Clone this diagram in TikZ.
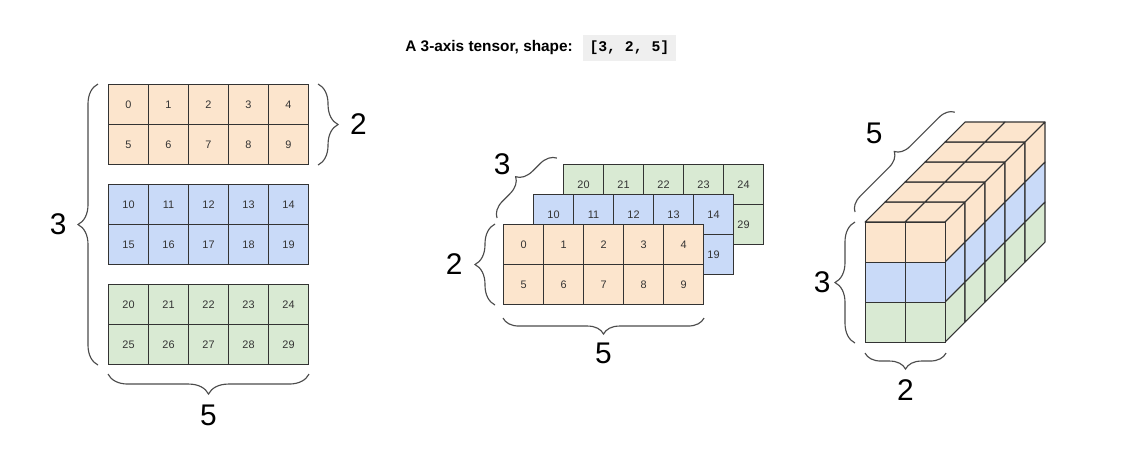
\documentclass[tikz,border=0pt]{standalone}
\usepackage{fontspec}
\setmainfont{Liberation Sans}
\setmonofont{Liberation Mono}
\usepackage{xcolor}
\usetikzlibrary{positioning,calc,decorations.pathreplacing}

\definecolor{tOrange}{HTML}{FCE5CD}
\definecolor{tBlue}{HTML}{C9DAF8}
\definecolor{tGreen}{HTML}{D9EAD3}
\definecolor{codeGray}{HTML}{EFEFEF}
\definecolor{gridLine}{HTML}{333333}

\begin{document}
\begin{tikzpicture}[
    x=0.02cm, y=-0.02cm,
    cell/.style={rectangle, draw=gridLine, line width=0.6pt, minimum width=0.8cm, minimum height=0.8cm, inner sep=0pt, anchor=north west, font=\fontsize{6.2}{7}\selectfont, text=black!80},
    face/.style={draw=gridLine, line width=0.6pt, line join=round},
    brace/.style={decorate, decoration={brace, amplitude=#1}, draw=black!70, line width=0.65pt},
    brace/.default=0.4cm,
    dimlabel/.style={font=\fontsize{17}{20}\selectfont, inner sep=0pt}
]
    \useasboundingbox (0,0) rectangle (1143,460);

    % title
    \node[anchor=west, inner sep=0pt, font=\bfseries\fontsize{8.75}{10}\selectfont] (title) at (405,48) {A 3-axis tensor, shape:};
    \node[right=0.18cm of title, fill=codeGray, inner xsep=0.14cm, minimum height=0.48cm, font=\ttfamily\bfseries\fontsize{8.4}{10}\selectfont] (shape) {[3, 2, 5]};

    % left: three 2x5 matrices
    \foreach \k/\col in {0/tOrange, 1/tBlue, 2/tGreen}
        \foreach \r in {0,1}
            \foreach \c in {0,...,4} {
                \pgfmathtruncatemacro{\n}{10*\k+5*\r+\c}
                \node[cell, fill=\col] (a\n) at (108+40*\c, 84+100*\k+40*\r) {\n};
            }

    \draw[brace] ($(a25.south west)+(-10,0)$) -- ($(a0.north west)+(-10,0)$) node[dimlabel, midway, left=0.62cm] (aThree) {3};
    \draw[brace] ($(a4.north east)+(9,0)$) -- ($(a9.south east)+(9,0)$) node[dimlabel, midway, right=0.63cm] (aTwo) {2};
    \draw[brace] ($(a29.south east)+(0,9)$) -- ($(a25.south west)+(0,9)$) node[dimlabel, midway, below=0.61cm] (aFive) {5};

    % middle: stacked matrices
    \foreach \k/\col/\x/\y in {2/tGreen/563/164, 1/tBlue/533/194, 0/tOrange/503/224}
        \foreach \r in {0,1}
            \foreach \c in {0,...,4} {
                \pgfmathtruncatemacro{\n}{10*\k+5*\r+\c}
                \node[cell, fill=\col] (b\n) at (\x+40*\c, \y+40*\r) {\n};
            }

    \draw[brace] ($(b5.south west)+(-8,0)$) -- ($(b0.north west)+(-8,0)$) node[dimlabel, midway, left=0.64cm] (bTwo) {2};
    \draw[brace=0.32cm] ($(b9.south east)+(0,13)$) -- ($(b5.south west)+(0,13)$) node[dimlabel, midway, below=0.48cm] (bFive) {5};
    \draw[brace=0.32cm] ($(b0.north west)+(-6,-6)$) -- ($(b20.north west)+(-6,-6)$) node[dimlabel, midway, anchor=south east, shift={(-16,-13)}] (bThree) {3};

    % right: the block of cubes
    \foreach \k in {0,...,4}
        \foreach \c in {0,1}
            \filldraw[face, fill=tOrange] (865+40*\c+20*\k, 222-20*\k) -- ++(40,0) -- ++(20,-20) -- ++(-40,0) -- cycle;
    \foreach \r/\col in {0/tOrange, 1/tBlue, 2/tGreen}
        \foreach \k in {0,...,4}
            \filldraw[face, fill=\col] (945+20*\k, 222+40*\r-20*\k) -- ++(20,-20) -- ++(0,40) -- ++(-20,20) -- cycle;
    \foreach \r/\col in {0/tOrange, 1/tBlue, 2/tGreen}
        \foreach \c in {0,1}
            \node[cell, fill=\col] (f\r\c) at (865+40*\c, 222+40*\r) {};

    \draw[brace] ($(f20.south west)+(-10,0)$) -- ($(f00.north west)+(-10,0)$) node[dimlabel, midway, left=0.48cm] (cThree) {3};
    \draw[brace=0.32cm] ($(f21.south east)+(0,10)$) -- ($(f20.south west)+(0,10)$) node[dimlabel, midway, below=0.52cm] (cTwo) {2};
    \draw[brace=0.3cm] ($(f00.north west)+(-10,-10)$) -- ($(f00.north west)+(90,-110)$) node[dimlabel, midway, anchor=south east, shift={(-22,-18)}] (cFive) {5};
\end{tikzpicture}
\end{document}
